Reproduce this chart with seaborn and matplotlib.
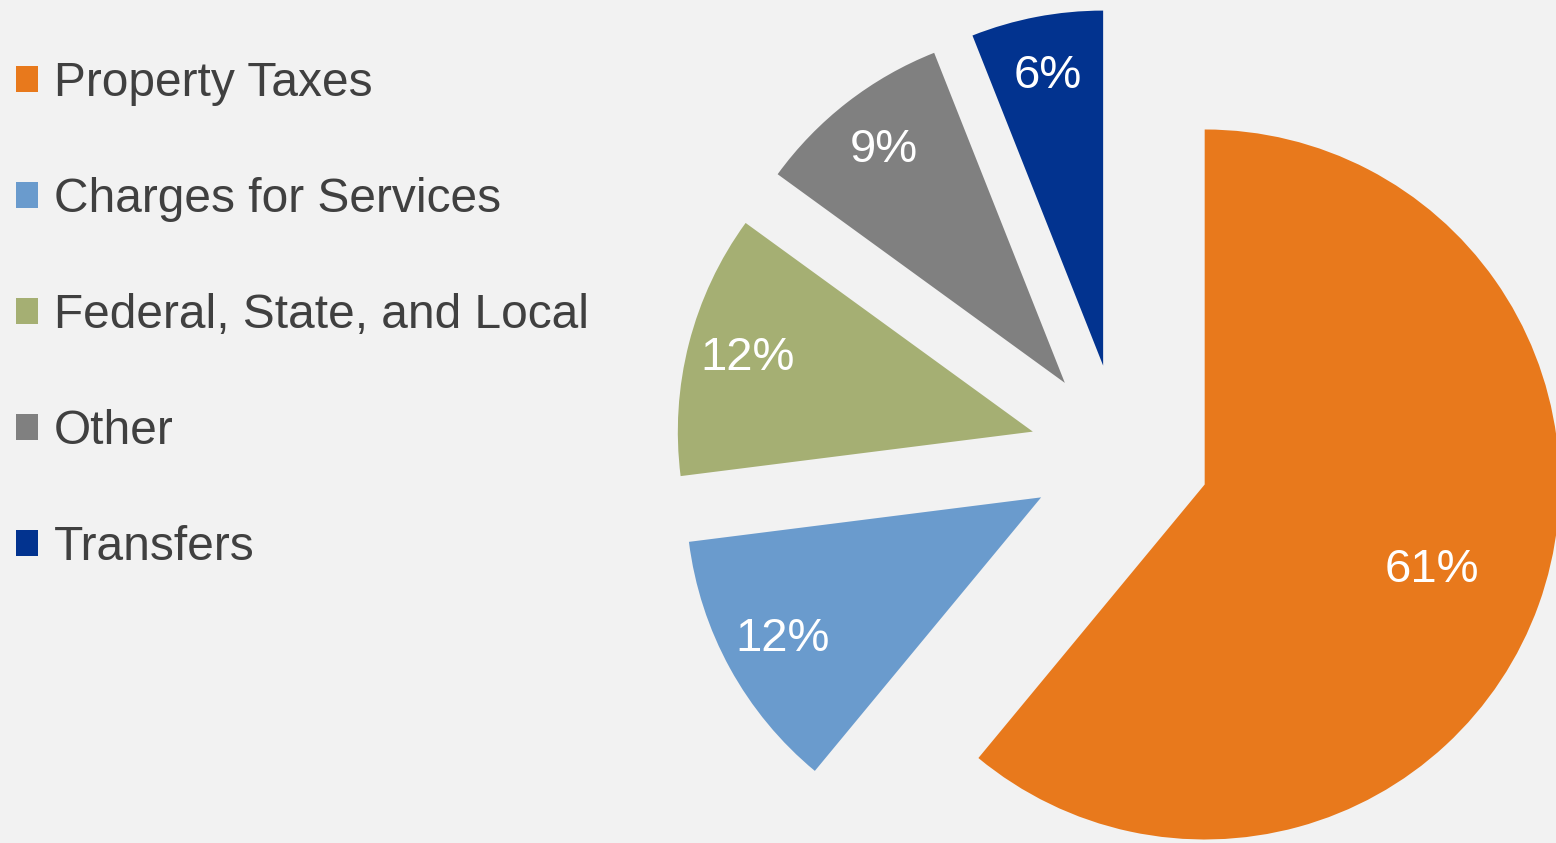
import matplotlib
matplotlib.use("Agg")
import matplotlib.pyplot as plt
import numpy as np
import seaborn as sns

# Revenue sources and their shares (%)
categories = ["Property Taxes", "Charges for Services", "Federal, State, and Local",
              "Other", "Transfers"]
shares = [61, 12, 12, 9, 6]
colors = ["#E8791C", "#6A9BCD", "#A5AF73", "#808080", "#02338F"]

sns.set_theme(style="white", rc={"figure.facecolor": "#F2F2F2",
                                 "axes.facecolor": "#F2F2F2"})
plt.rcParams["font.family"] = ["Liberation Sans", "DejaVu Sans"]
palette = sns.color_palette(colors)

W, H = 1556, 843
fig = plt.figure(figsize=(W / 100, H / 100), dpi=100)
ax = fig.add_axes([0, 0, 1, 1])

radius = 355
wedges, texts, autotexts = ax.pie(
    shares,
    colors=palette,
    startangle=90,
    counterclock=False,
    radius=radius,
    center=(1120, 389),
    explode=[90] * len(shares),
    autopct=lambda p: f"{p:.0f}%",
    pctdistance=0.83,
    frame=True,
    wedgeprops=dict(linewidth=0),
    textprops=dict(color="white", fontsize=34),
)

# The large slice carries its label closer to the slice's corner
w = wedges[0]
mid = np.deg2rad(0.5 * (w.theta1 + w.theta2))
cx, cy = w.center
autotexts[0].set_position((cx + 0.68 * radius * np.cos(mid),
                           cy + 0.68 * radius * np.sin(mid) - 4))

ax.set_xlim(0, W)
ax.set_ylim(0, H)
ax.set_aspect("equal")
ax.axis("off")

fig.legend(
    wedges, categories,
    loc="upper left",
    bbox_to_anchor=(16 / W, 1 - 61 / H),
    frameon=False,
    fontsize=34.5,
    labelcolor="#404040",
    handlelength=0.46,
    handleheight=0.46,
    handletextpad=0.33,
    labelspacing=1.48,
    borderpad=0,
    borderaxespad=0,
)

fig.savefig("out.png", dpi=100, facecolor=fig.get_facecolor())
